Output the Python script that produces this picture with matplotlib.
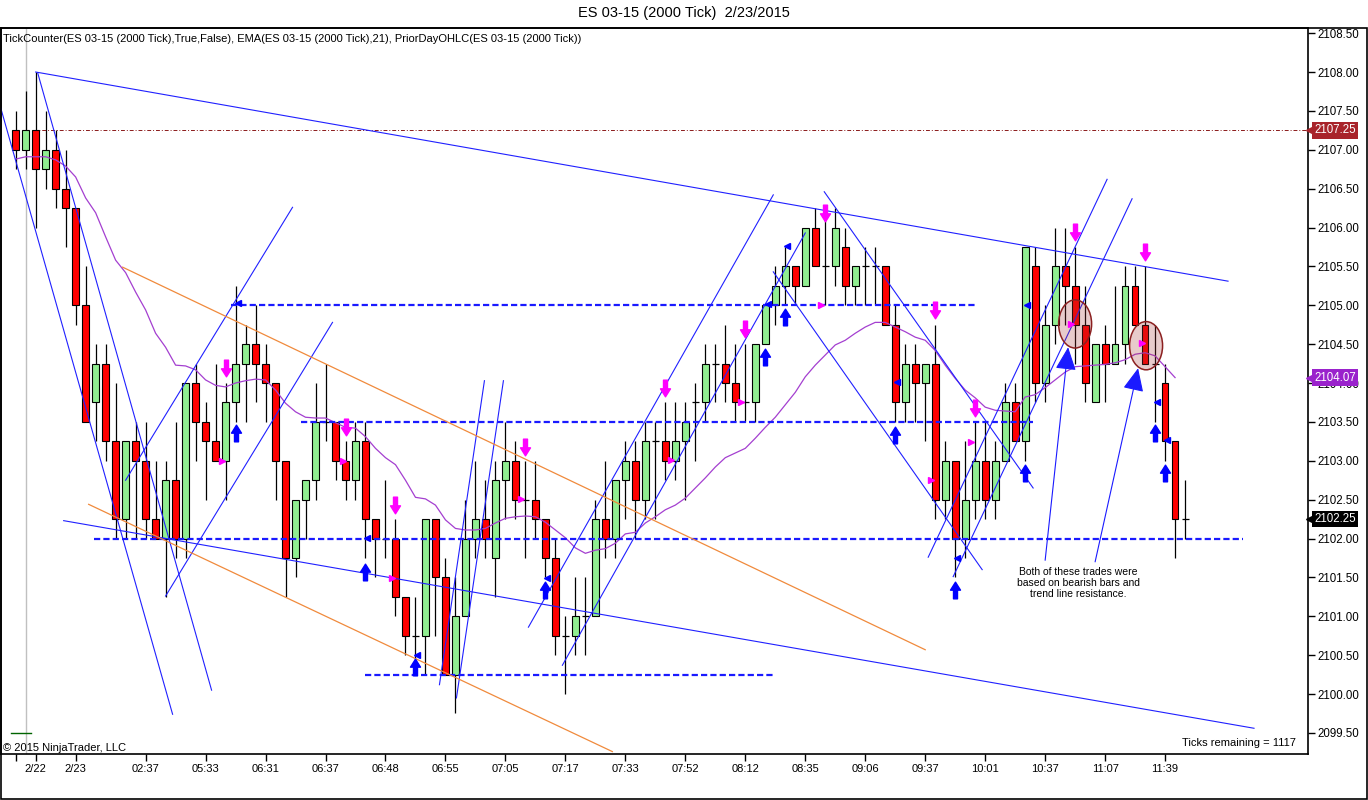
import matplotlib
matplotlib.use("Agg")
import matplotlib.pyplot as plt
import matplotlib.transforms as mtransforms
from matplotlib.path import Path
from matplotlib.patches import Ellipse, Rectangle
import numpy as np

plt.rcParams['font.family'] = ['Liberation Sans', 'DejaVu Sans']

# ---- bar data (2000 tick bars) ----
opens = [2107.25, 2107.0, 2107.25, 2106.75, 2107.0, 2106.5, 2106.25, 2105.0, 2103.75, 2104.25,
         2103.25, 2102.25, 2103.25, 2103.0, 2102.25, 2102.0, 2102.75, 2102.0, 2104.0, 2103.5,
         2103.25, 2103.0, 2103.75, 2104.25, 2104.5, 2104.25, 2104.0, 2103.0, 2101.75, 2102.5,
         2102.75, 2103.5, 2103.5, 2103.0, 2102.75, 2103.25, 2102.25, 2102.0, 2102.0, 2101.25,
         2100.75, 2100.75, 2102.25, 2101.5, 2100.25, 2101.0, 2102.0, 2102.25, 2101.75, 2102.75,
         2103.0, 2102.5, 2102.5, 2102.25, 2101.75, 2100.75, 2100.75, 2101.0, 2101.0, 2102.25,
         2102.0, 2102.75, 2103.0, 2102.5, 2103.25, 2103.25, 2103.0, 2103.25, 2103.75, 2103.75,
         2104.25, 2104.25, 2104.0, 2103.75, 2103.75, 2104.5, 2105.0, 2105.25, 2105.5, 2105.25,
         2106.0, 2105.5, 2105.5, 2105.75, 2105.25, 2105.5, 2105.5, 2105.5, 2104.75, 2103.75,
         2104.25, 2104.0, 2104.25, 2102.5, 2103.0, 2102.0, 2102.5, 2103.0, 2102.5, 2103.0,
         2103.75, 2103.25, 2105.5, 2104.0, 2104.75, 2105.5, 2105.25, 2104.75, 2103.75, 2104.5,
         2104.25, 2104.5, 2105.25, 2104.75, 2104.25, 2104.0, 2103.25, 2102.25]
highs = [2107.5, 2107.75, 2108.0, 2107.5, 2107.25, 2107.0, 2106.25, 2105.5, 2104.5, 2104.5,
         2104.0, 2103.25, 2103.5, 2103.5, 2103.0, 2103.0, 2103.5, 2104.0, 2104.25, 2103.75,
         2104.25, 2104.0, 2105.25, 2104.75, 2105.0, 2104.5, 2104.0, 2103.0, 2102.5, 2102.75,
         2104.0, 2104.25, 2103.5, 2103.25, 2103.5, 2103.5, 2102.25, 2102.75, 2102.25, 2101.25,
         2101.25, 2102.25, 2102.25, 2101.75, 2101.5, 2102.5, 2103.0, 2102.75, 2103.0, 2103.5,
         2103.25, 2103.0, 2103.0, 2102.25, 2102.0, 2101.0, 2101.5, 2101.5, 2102.5, 2103.0,
         2102.75, 2103.25, 2103.25, 2103.5, 2103.5, 2103.75, 2103.75, 2103.75, 2104.0, 2104.5,
         2104.5, 2104.75, 2104.5, 2104.5, 2104.5, 2105.0, 2105.5, 2105.75, 2105.5, 2106.0,
         2106.25, 2106.25, 2106.25, 2106.0, 2105.5, 2105.75, 2105.75, 2105.5, 2105.0, 2104.5,
         2104.5, 2104.25, 2104.75, 2103.25, 2103.0, 2103.25, 2103.5, 2103.5, 2103.25, 2104.0,
         2104.0, 2105.75, 2105.75, 2105.0, 2106.0, 2106.0, 2105.75, 2105.25, 2104.5, 2104.75,
         2105.25, 2105.5, 2105.5, 2105.5, 2104.75, 2104.25, 2103.25, 2102.75]
lows = [2106.75, 2106.75, 2106.0, 2106.5, 2106.25, 2105.75, 2104.75, 2103.5, 2103.25, 2103.0,
        2102.0, 2102.0, 2102.0, 2102.0, 2102.0, 2101.25, 2101.75, 2101.75, 2103.0, 2102.5,
        2103.0, 2102.5, 2103.5, 2103.5, 2103.75, 2103.5, 2102.5, 2101.25, 2101.5, 2102.0,
        2102.5, 2103.25, 2102.75, 2102.5, 2102.5, 2101.75, 2101.5, 2101.75, 2101.0, 2100.5,
        2100.25, 2100.25, 2100.75, 2100.25, 2099.75, 2101.0, 2101.75, 2101.75, 2101.25, 2102.25,
        2102.25, 2101.75, 2102.0, 2101.5, 2100.5, 2100.0, 2100.5, 2100.5, 2101.0, 2101.75,
        2101.75, 2102.25, 2102.0, 2102.25, 2102.25, 2102.75, 2102.75, 2102.5, 2103.0, 2103.5,
        2103.75, 2103.75, 2103.5, 2103.5, 2103.5, 2104.5, 2104.75, 2105.0, 2105.0, 2105.25,
        2105.5, 2105.0, 2105.25, 2105.0, 2105.0, 2105.0, 2105.0, 2104.75, 2103.5, 2103.5,
        2103.5, 2103.25, 2102.25, 2102.25, 2101.5, 2101.75, 2102.25, 2102.25, 2102.25, 2103.0,
        2103.25, 2103.0, 2103.75, 2103.75, 2104.5, 2104.75, 2104.25, 2103.75, 2103.75, 2103.75,
        2104.25, 2104.25, 2104.75, 2104.25, 2103.5, 2103.0, 2101.75, 2102.0]
closes = [2107.0, 2107.25, 2106.75, 2107.0, 2106.5, 2106.25, 2105.0, 2103.5, 2104.25, 2103.25,
          2102.25, 2103.25, 2103.0, 2102.25, 2102.0, 2102.75, 2102.0, 2104.0, 2103.5, 2103.25,
          2103.0, 2103.75, 2104.25, 2104.5, 2104.25, 2104.0, 2103.0, 2101.75, 2102.5, 2102.75,
          2103.5, 2103.5, 2103.0, 2102.75, 2103.25, 2102.25, 2102.0, 2102.0, 2101.25, 2100.75,
          2100.75, 2102.25, 2101.5, 2100.25, 2101.0, 2102.0, 2102.25, 2102.0, 2102.75, 2103.0,
          2102.5, 2102.5, 2102.25, 2101.75, 2100.75, 2100.75, 2101.0, 2101.0, 2102.25, 2102.0,
          2102.75, 2103.0, 2102.5, 2103.25, 2103.25, 2103.0, 2103.25, 2103.5, 2103.75, 2104.25,
          2104.25, 2104.0, 2103.75, 2103.75, 2104.5, 2105.0, 2105.25, 2105.5, 2105.25, 2106.0,
          2105.5, 2105.5, 2106.0, 2105.25, 2105.5, 2105.5, 2105.5, 2104.75, 2103.75, 2104.25,
          2104.0, 2104.25, 2102.5, 2103.0, 2102.0, 2102.5, 2103.0, 2102.5, 2103.0, 2103.75,
          2103.25, 2105.75, 2104.0, 2104.75, 2105.5, 2105.25, 2104.75, 2104.0, 2104.5, 2104.25,
          2104.5, 2105.25, 2104.75, 2104.25, 2104.25, 2103.25, 2102.25, 2102.25]

# EMA(21) as plotted (one value per bar)
ema = [2106.88, 2106.91, 2106.91, 2106.91, 2106.87, 2106.79, 2106.65, 2106.38, 2106.19, 2105.88,
       2105.58, 2105.42, 2105.17, 2104.94, 2104.64, 2104.46, 2104.23, 2104.22, 2104.17, 2104.04,
       2103.97, 2103.95, 2104.00, 2104.03, 2104.05, 2104.04, 2103.91, 2103.74, 2103.63, 2103.56,
       2103.55, 2103.55, 2103.49, 2103.43, 2103.42, 2103.31, 2103.16, 2103.04, 2102.95, 2102.75,
       2102.53, 2102.51, 2102.43, 2102.24, 2102.13, 2102.11, 2102.11, 2102.13, 2102.20, 2102.26,
       2102.28, 2102.29, 2102.28, 2102.21, 2102.11, 2102.01, 2101.88, 2101.81, 2101.85, 2101.87,
       2101.94, 2102.06, 2102.08, 2102.20, 2102.28, 2102.37, 2102.43, 2102.52, 2102.65, 2102.78,
       2102.92, 2103.04, 2103.10, 2103.16, 2103.29, 2103.43, 2103.56, 2103.72, 2103.88, 2104.08,
       2104.23, 2104.36, 2104.49, 2104.55, 2104.64, 2104.72, 2104.78, 2104.78, 2104.72, 2104.66,
       2104.59, 2104.55, 2104.42, 2104.23, 2104.06, 2103.91, 2103.81, 2103.69, 2103.65, 2103.64,
       2103.63, 2103.82, 2103.85, 2103.94, 2104.04, 2104.14, 2104.21, 2104.22, 2104.23, 2104.24,
       2104.26, 2104.30, 2104.37, 2104.39, 2104.35, 2104.21, 2104.07]

tick_pos = [0, 2, 6, 13, 19, 25, 31, 37, 43, 49, 55, 61, 67, 73, 79, 85, 91, 97, 103, 109, 115]
tick_labels = ['', '2/22', '2/23', '02:37', '05:33', '06:31', '06:37', '06:48', '06:55', '07:05',
               '07:17', '07:33', '07:52', '08:12', '08:35', '09:06', '09:37', '10:01', '10:37',
               '11:07', '11:39']

# ---- drawing objects (bar index, price) ----
trend_lines = [
    ((2.0, 2108.0), (121.3, 2105.31)),
    ((-1.5, 2107.54), (15.7, 2099.74)),
    ((2.2, 2107.99), (19.6, 2100.05)),
    ((11.0, 2102.75), (27.7, 2106.26)),
    ((15.0, 2101.26), (31.7, 2104.78)),
    ((4.8, 2102.23), (123.9, 2099.56)),
    ((42.4, 2100.12), (46.9, 2104.03)),
    ((44.1, 2099.95), (48.8, 2104.03)),
    ((51.3, 2100.86), (75.8, 2106.42)),
    ((54.7, 2100.37), (79.0, 2105.93)),
    ((75.8, 2105.43), (96.7, 2101.60)),
    ((80.9, 2106.46), (101.8, 2102.65)),
    ((91.3, 2101.76), (109.2, 2106.62)),
    ((93.8, 2101.51), (111.7, 2106.37)),
]
orange_lines = [
    ((10.7, 2105.49), (91.0, 2100.57)),
    ((7.3, 2102.44), (59.7, 2099.26)),
]
h_levels = [2105.0, 2103.5, 2102.0, 2100.25]
h_start = [21.5, 28.5, 7.8, 35.0]
h_end = [96.2, 101.8, 122.8, 76.0]

arrow_lines = [((103.0, 2101.72), (105.3, 2104.46)),
               ((108.0, 2101.70), (112.3, 2104.19))]
ovals = [(106.0, 2104.76), (113.1, 2104.48)]

buy_arrows = [(22, 2103.36), (35, 2101.57), (40, 2100.35), (53, 2101.34), (75, 2104.33),
              (77, 2104.85), (88, 2103.33), (94, 2101.34), (101, 2102.84), (114, 2103.36),
              (115, 2102.84)]
sell_arrows = [(21, 2104.19), (33, 2103.43), (38, 2102.43), (51, 2103.18), (65, 2103.94),
               (73, 2104.69), (81, 2106.19), (92, 2104.94), (96, 2103.68), (106, 2105.94),
               (113, 2105.69)]
exit_right = [(20.6, 2103.0), (32.7, 2103.0), (37.7, 2101.49), (50.6, 2102.51), (65.6, 2103.01),
              (72.6, 2103.76), (80.6, 2105.0), (91.6, 2102.75), (95.6, 2103.24), (105.6, 2104.76),
              (112.7, 2104.51)]
exit_left = [(22.2, 2105.03), (35.2, 2102.01), (40.2, 2100.50), (53.2, 2101.49), (75.3, 2105.02),
             (77.2, 2105.76), (88.2, 2104.01), (94.2, 2101.75), (101.2, 2105.0), (114.2, 2103.76),
             (115.2, 2103.27)]

prior_close = 2107.25
prior_low = 2099.5

fig = plt.figure(figsize=(13.68, 8.0), dpi=100)
ax = fig.add_axes([0.0005, 0.0575, 1308 / 1368 - 0.0005, 0.965 - 0.0575])

idx = np.arange(len(opens))
o = np.array(opens)
c = np.array(closes)
h = np.array(highs)
l = np.array(lows)

# wicks
ax.vlines(idx, l, h, color='black', lw=0.9, zorder=2)
# bodies
up = c > o
dn = c < o
dj = c == o
ax.bar(idx[up], (c - o)[up], bottom=o[up], width=0.68, color='#90ee90',
       edgecolor='black', lw=0.8, zorder=3)
ax.bar(idx[dn], (o - c)[dn], bottom=c[dn], width=0.68, color='#ff0000',
       edgecolor='black', lw=0.8, zorder=3)
ax.hlines(c[dj], idx[dj] - 0.35, idx[dj] + 0.35, color='black', lw=0.9, zorder=3)

# prior day lines and session break
ax.axvline(1, color='#c0c0c0', lw=1, zorder=1)
ax.plot([1.7, 140], [prior_close, prior_close], color='#8b1a1a', lw=0.7,
        ls=(0, (4, 2, 1, 2)), zorder=2)
ax.plot([-0.5, 1.5], [prior_low, prior_low], color='#006400', lw=1, zorder=2)

# EMA
ax.plot(idx[:len(ema)], ema, color='#a43fd0', lw=0.9, zorder=4)

# dashed levels
for lev, x0, x1 in zip(h_levels, h_start, h_end):
    ax.plot([x0, x1], [lev, lev], color='#1a1aff', lw=1.6, ls=(0, (2.8, 1.4)), zorder=5)

for (x0, y0), (x1, y1) in trend_lines:
    ax.plot([x0, x1], [y0, y1], color='#2020ff', lw=0.8, zorder=5)
for (x0, y0), (x1, y1) in orange_lines:
    ax.plot([x0, x1], [y0, y1], color='#f08a3c', lw=0.9, zorder=5)

for (x0, y0), (x1, y1) in arrow_lines:
    ax.annotate('', xy=(x1, y1), xytext=(x0, y0),
                arrowprops=dict(arrowstyle='-|>,head_length=1.1,head_width=0.5',
                                color='#1a1aff', lw=0.8, mutation_scale=13,
                                shrinkA=0, shrinkB=0), zorder=6)

for cx, cy in ovals:
    ax.add_patch(Ellipse((cx, cy), 3.3, 0.62, facecolor=(0.65, 0.2, 0.2, 0.25),
                         edgecolor='#8b2020', lw=1.1, zorder=6))

# trade markers
up_arrow = Path([(-0.3, 0.02), (0, 0.5), (0.3, 0.02), (0.12, 0.02), (0.12, -0.5),
                 (-0.12, -0.5), (-0.12, 0.02), (-0.3, 0.02)],
                [Path.MOVETO] + [Path.LINETO] * 6 + [Path.CLOSEPOLY])
down_arrow = Path([(x, -y) for x, y in up_arrow.vertices], up_arrow.codes)

bx, by = zip(*buy_arrows)
ax.plot(bx, by, ls='none', marker=up_arrow, ms=12, color='#0000ff', mec='#0000ff', zorder=7)
sx, sy = zip(*sell_arrows)
ax.plot(sx, sy, ls='none', marker=down_arrow, ms=12, color='#ff00ff', mec='#ff00ff', zorder=7)
rx, ry = zip(*exit_right)
ax.plot(rx, ry, ls='none', marker='>', ms=5, color='#ff00ff', mec='#ff00ff', zorder=7)
lx, ly = zip(*exit_left)
ax.plot(lx, ly, ls='none', marker='<', ms=5, color='#0000ff', mec='#0000ff', zorder=7)

ax.text(106.3, 2101.43, 'Both of these trades were\nbased on bearish bars and\ntrend line resistance.',
        ha='center', va='center', fontsize=7.5, linespacing=1.15, zorder=8)

# axes setup
ax.set_xlim(-1.5, 129.3)
ax.set_ylim(2099.229, 2108.566)
ax.set_xticks(tick_pos)
ax.set_xticklabels(tick_labels, fontsize=8)
ax.yaxis.tick_right()
ax.set_yticks(np.arange(2099.5, 2108.51, 0.5))
ax.set_yticklabels(['%.2f' % v for v in np.arange(2099.5, 2108.51, 0.5)], fontsize=8.3)
ax.tick_params(axis='both', direction='out', length=5, width=1, pad=2)
for s in ax.spines.values():
    s.set_linewidth(1.2)

trans = mtransforms.blended_transform_factory(ax.transAxes, ax.transData)
price_tags = [(2107.25, '2107.25', '#a8232a'), (2104.07, '2104.07', '#9a22cc'),
              (2102.25, '2102.25', '#000000')]
for val, txt, col in price_tags:
    ax.text(1.0048, val, txt, transform=trans, ha='left', va='center', fontsize=8.3, color='white',
            bbox=dict(boxstyle='square,pad=0.2', fc=col, ec='none'), clip_on=False, zorder=10)
    ax.plot([1.0025], [val], marker='<', ms=7, color=col, transform=trans, clip_on=False, zorder=9)

ax.text(0.002, 0.985, 'TickCounter(ES 03-15 (2000 Tick),True,False), EMA(ES 03-15 (2000 Tick),21), '
        'PriorDayOHLC(ES 03-15 (2000 Tick))', transform=ax.transAxes, ha='left', va='center',
        fontsize=8)
ax.text(0.002, 0.008, '\u00a9 2015 NinjaTrader, LLC', transform=ax.transAxes, ha='left',
        va='center', fontsize=8)
ax.text(0.9908, 0.0152, 'Ticks remaining = 1117', transform=ax.transAxes, ha='right',
        va='center', fontsize=8)

fig.text(0.5, 0.984, 'ES 03-15 (2000 Tick)  2/23/2015', ha='center', va='center', fontsize=10.5)
fig.add_artist(Rectangle((0.0005, 0.0008), 0.999, 0.9642, transform=fig.transFigure,
                         fill=False, lw=1.2, color='black'))

fig.savefig('out.png', dpi=100)
